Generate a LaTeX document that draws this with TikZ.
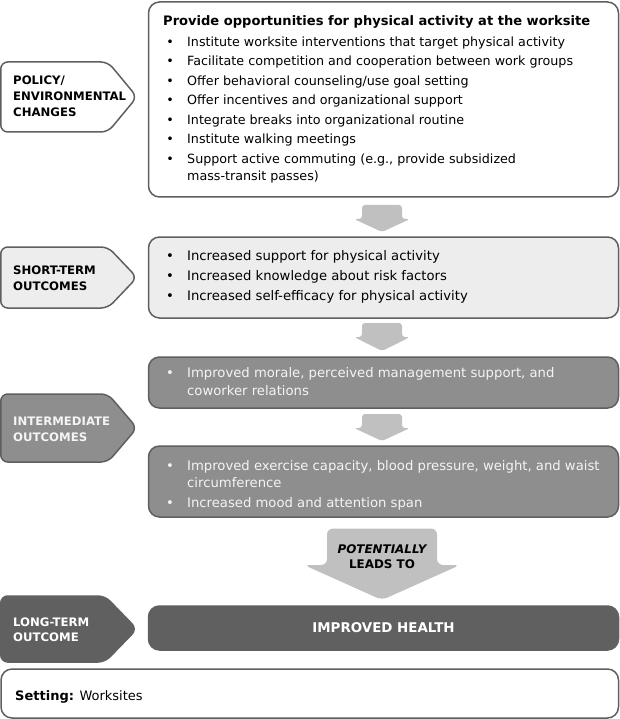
\documentclass[tikz,border=0pt]{standalone}
\usepackage{fontspec}
\setmainfont{DejaVu Sans}
\definecolor{edgec}{HTML}{5F5F5F}
\definecolor{lightf}{HTML}{EDEDED}
\definecolor{midf}{HTML}{8E8E8E}
\definecolor{darkf}{HTML}{606060}
\definecolor{arrowc}{HTML}{C0C0C0}
\definecolor{paletxt}{HTML}{F4F4F4}
\begin{document}
\begin{tikzpicture}[x=1pt,y=-1pt,
  box/.style={draw=edgec, line width=1.5pt, rounded corners=11pt, rectangle, inner sep=0pt, minimum width=470pt},
  tag/.style={draw=edgec, line width=1.5pt, rounded corners=7pt},
  toptxt/.style={anchor=base west, inner sep=0pt, font=\fontsize{12.7}{15}\selectfont},
  topbul/.style={anchor=base, inner sep=0pt, font=\fontsize{12.7}{15}\selectfont},
  bodytxt/.style={anchor=base west, inner sep=0pt, font=\fontsize{13.2}{15}\selectfont},
  bul/.style={anchor=base, inner sep=0pt, font=\fontsize{13.2}{15}\selectfont},
  tagtxt/.style={anchor=base west, inner sep=0pt, font=\fontsize{11.7}{14}\selectfont\bfseries},
  blk/.style={fill=arrowc, draw=none, rounded corners=3pt}
]
\useasboundingbox (0,0) rectangle (620,719);

% ---------- boxes ----------
\node[box, fill=white, minimum height=195pt] (policy) at (383.5,99.5) {};
\node[box, fill=lightf, minimum height=81pt] (short) at (383.5,277.5) {};
\node[box, fill=midf, minimum height=51pt] (inter1) at (383.5,382.5) {};
\node[box, fill=midf, minimum height=71pt] (inter2) at (383.5,481.5) {};
\node[box, fill=darkf, draw=darkf, minimum height=44pt, text=white,
      font=\fontsize{13.4}{15}\selectfont\bfseries] (health) at (383.5,628) {IMPROVED HEALTH};
\node[box, fill=white, minimum width=617.5pt, minimum height=49pt] (setting) at (309.75,693.5) {};

% ---------- tags ----------
\draw[tag, fill=white] (0.75,62) -- (108,62) -- (137,97) -- (108,132) -- (0.75,132) -- cycle;
\draw[tag, fill=lightf] (0.75,247) -- (108,247) -- (137,277.5) -- (108,308) -- (0.75,308) -- cycle;
\draw[tag, fill=midf] (0.75,394) -- (108,394) -- (137,428) -- (108,462) -- (0.75,462) -- cycle;
\draw[tag, fill=darkf, draw=darkf] (0.75,596) -- (105,596) -- (137,629) -- (105,662) -- (0.75,662) -- cycle;

\node[tagtxt] (tp1) at (13,85) {POLICY/};
\node[tagtxt] (tp2) at (13,100.7) {ENVIRONMENTAL};
\node[tagtxt] (tp3) at (13,116.7) {CHANGES};
\node[tagtxt] (ts1) at (13,274.3) {SHORT-TERM};
\node[tagtxt] (ts2) at (13,290) {OUTCOMES};
\node[tagtxt, text=paletxt] (ti1) at (13,425.7) {INTERMEDIATE};
\node[tagtxt, text=paletxt] (ti2) at (13,441.7) {OUTCOMES};
\node[tagtxt, text=white] (tl1) at (13,626.7) {LONG-TERM};
\node[tagtxt, text=white] (tl2) at (13,641.7) {OUTCOME};

% ---------- block arrows ----------
\fill[blk] (362,205) -- (402,205) -- (402,219) -- (410,219) -- (382,232) -- (354,219) -- (362,219) -- cycle;
\fill[blk] (362,323) -- (402,323) -- (402,337) -- (410,337) -- (382,351) -- (354,337) -- (362,337) -- cycle;
\fill[blk] (362,414) -- (402,414) -- (402,428) -- (410,428) -- (382,441) -- (354,428) -- (362,428) -- cycle;
\fill[blk, rounded corners=6pt] (327,528.5) -- (437,528.5) -- (437,565) -- (460,565) -- (382,600) -- (304,565) -- (327,565) -- cycle;
\node[anchor=base, inner sep=0pt, font=\fontsize{11.9}{14}\selectfont\bfseries\itshape] (pot1) at (382,553) {POTENTIALLY};
\node[anchor=base, inner sep=0pt, font=\fontsize{11.9}{14}\selectfont\bfseries] (pot2) at (382,568) {LEADS TO};

% ---------- policy box text ----------
\node[anchor=base west, inner sep=0pt, font=\fontsize{13.05}{15}\selectfont\bfseries] (ptitle) at (163,26)
  {Provide opportunities for physical activity at the worksite};
\foreach \yy/\ltext [count=\i] in {
  46.5/{Institute worksite interventions that target physical activity},
  66/{Facilitate competition and cooperation between work groups},
  85.5/{Offer behavioral counseling/use goal setting},
  105/{Offer incentives and organizational support},
  124.5/{Integrate breaks into organizational routine},
  144/{Institute walking meetings},
  163.5/{Support active commuting (e.g., provide subsidized}} {
  \node[topbul] (pb\i) at (170,\yy) {•};
  \node[toptxt] (pt\i) at (187,\yy) {\ltext};
}
\node[toptxt] (pt8) at (187,181) {mass-transit passes)};

% ---------- short-term text ----------
\foreach \yy/\ltext [count=\i] in {
  260.5/{Increased support for physical activity},
  280.5/{Increased knowledge about risk factors},
  300.5/{Increased self-efficacy for physical activity}} {
  \node[bul] (sb\i) at (170,\yy) {•};
  \node[bodytxt] (st\i) at (187,\yy) {\ltext};
}

% ---------- intermediate text ----------
\node[bul, text=paletxt] (ib1) at (170,377) {•};
\node[bodytxt, text=paletxt] (it1) at (187,377) {Improved morale, perceived management support, and};
\node[bodytxt, text=paletxt] (it2) at (187,395.5) {coworker relations};
\node[bul, text=paletxt] (ib2) at (170,470.5) {•};
\node[bodytxt, text=paletxt] (it3) at (187,470.5) {Improved exercise capacity, blood pressure, weight, and waist};
\node[bodytxt, text=paletxt] (it4) at (187,487.5) {circumference};
\node[bul, text=paletxt] (ib3) at (170,507) {•};
\node[bodytxt, text=paletxt] (it5) at (187,507) {Increased mood and attention span};

% ---------- setting ----------
\node[anchor=base west, inner sep=0pt, font=\fontsize{13}{15}\selectfont] (settxt) at (15,700)
  {\textbf{Setting:} Worksites};
\end{tikzpicture}
\end{document}
